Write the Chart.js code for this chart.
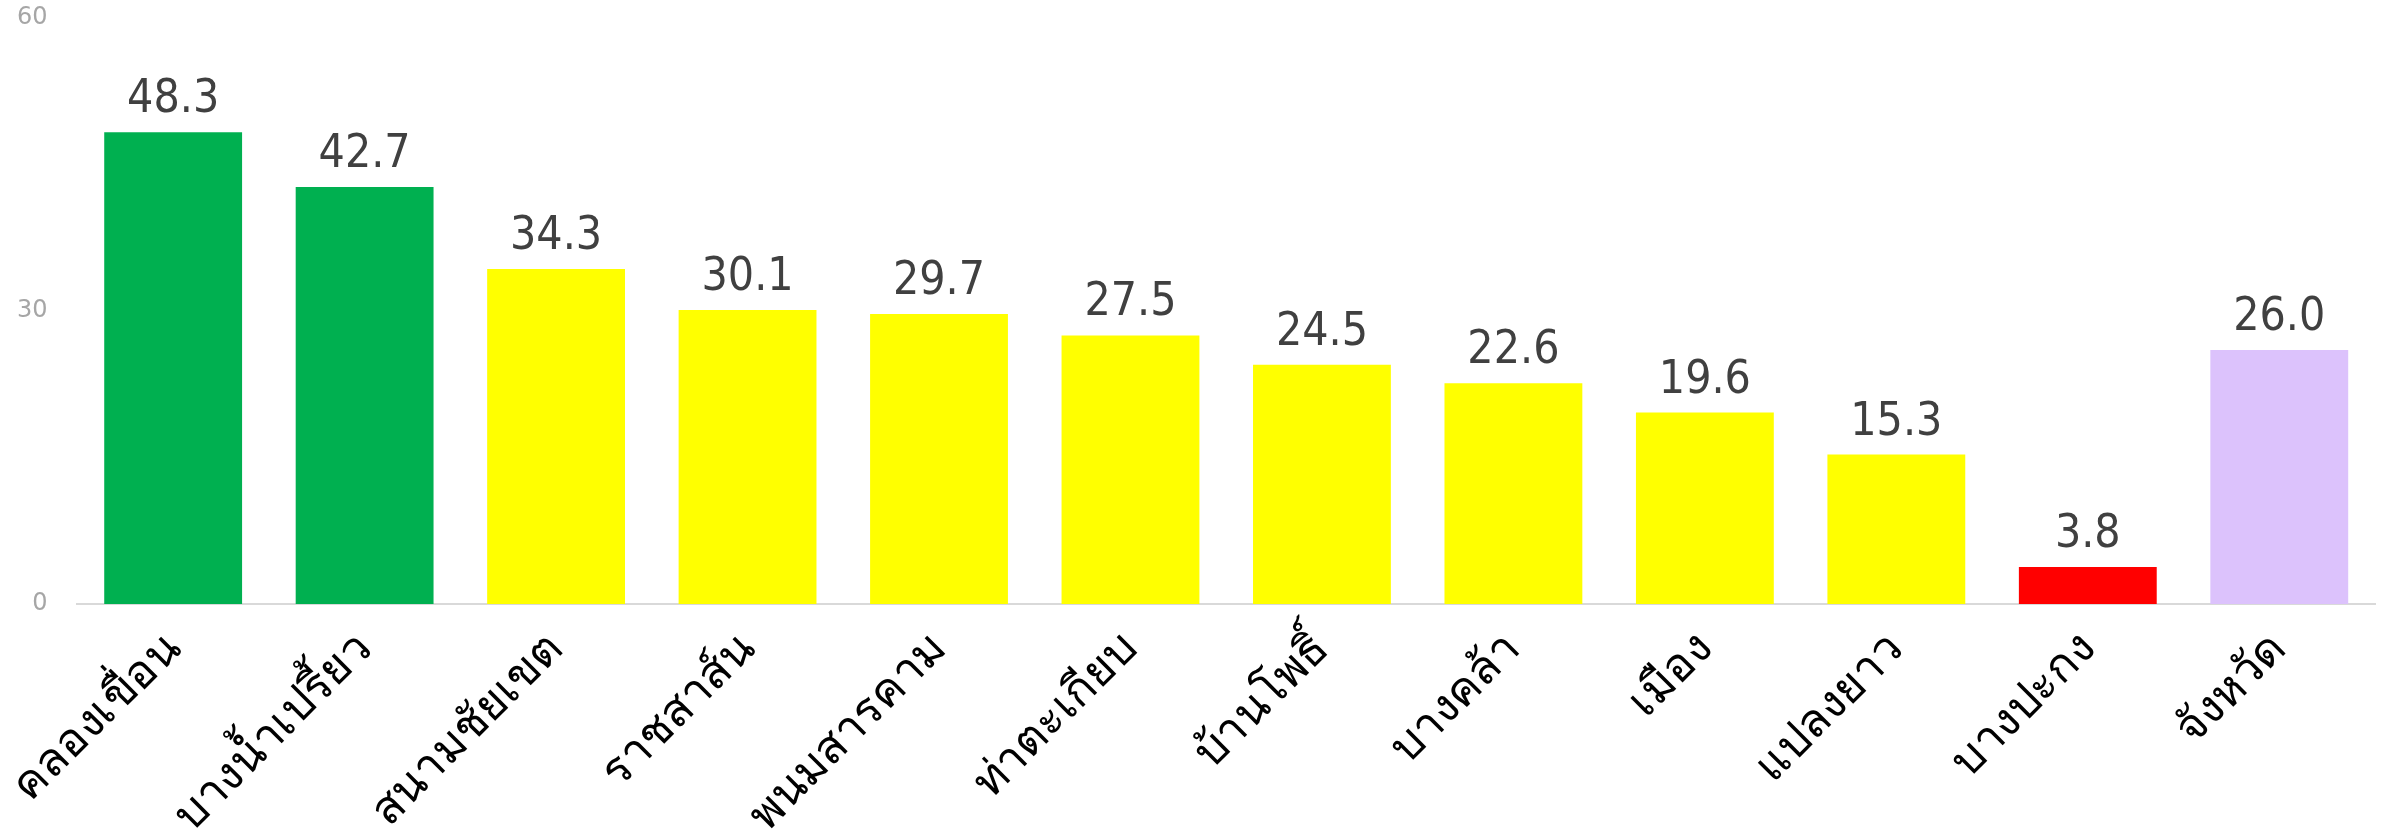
<!DOCTYPE html>
<html>
<head>
<meta charset="utf-8">
<script src="https://cdn.jsdelivr.net/npm/chart.js@4/dist/chart.umd.min.js"></script>
<style>
  html, body { margin: 0; padding: 0; background: #fff; }
  #wrap { width: 2387px; height: 840px; }
</style>
</head>
<body>
<div id="wrap"><canvas id="chart"></canvas></div>
<script>
// ข้อมูลรายอำเภอ
const districts = ['คลองเขื่อน', 'บางน้ำเปรี้ยว', 'สนามชัยเขต', 'ราชสาส์น', 'พนมสารคาม', 'ท่าตะเกียบ',
  'บ้านโพธิ์', 'บางคล้า', 'เมือง', 'แปลงยาว', 'บางปะกง', 'จังหวัด'];
const values = [48.3, 42.7, 34.3, 30.1, 29.7, 27.5, 24.5, 22.6, 19.6, 15.3, 3.8, 26.0];
const barColors = ['#00b050', '#00b050', '#ffff00', '#ffff00', '#ffff00', '#ffff00',
  '#ffff00', '#ffff00', '#ffff00', '#ffff00', '#ff0000', '#dcc2fc'];
const yTicks = [0, 30, 60];

// ป้ายค่าบนแท่ง
const valueLabels = {
  id: 'valueLabels',
  afterDatasetsDraw(chart) {
    const ctx = chart.ctx;
    const meta = chart.getDatasetMeta(0);
    ctx.save();
    ctx.fillStyle = '#404040';
    ctx.font = '46px "DejaVu Sans Condensed", "DejaVu Sans"';
    ctx.textAlign = 'center';
    ctx.textBaseline = 'alphabetic';
    meta.data.forEach((bar, i) => {
      ctx.fillText(values[i].toFixed(1), bar.x, bar.y - 20);
    });
    ctx.restore();
  }
};

new Chart(document.getElementById('chart').getContext('2d'), {
  type: 'bar',
  data: {
    labels: districts,
    datasets: [{
      data: values,
      backgroundColor: barColors,
      borderWidth: 0,
      barPercentage: 0.72,
      categoryPercentage: 1,
    }]
  },
  options: {
    responsive: true,
    maintainAspectRatio: false,
    animation: false,
    layout: { padding: { top: 18, right: 12, left: 0, bottom: 0 } },
    plugins: {
      legend: { display: false },
      tooltip: { enabled: false },
    },
    scales: {
      x: {
        grid: { display: false, drawTicks: false },
        border: { color: '#d9d9d9', width: 2 },
        ticks: {
          color: '#000',
          font: { family: 'Tahoma, "Noto Sans", sans-serif', size: 46 },
          minRotation: 45,
          maxRotation: 45,
          padding: 18,
          autoSkip: false,
        },
        afterFit: s => { s.height = 236; }
      },
      y: {
        min: 0,
        max: 60,
        afterBuildTicks: s => { s.ticks = yTicks.map(v => ({ value: v })); },
        grid: { display: false, drawTicks: false },
        border: { display: false },
        ticks: {
          color: '#a6a6a6',
          font: { family: '"DejaVu Sans"', size: 24 },
          padding: 30,
        },
        afterFit: s => { s.width = 75; s.paddingTop = 0; s.paddingBottom = 0; }
      }
    }
  },
  plugins: [valueLabels]
});
</script>
</body>
</html>
